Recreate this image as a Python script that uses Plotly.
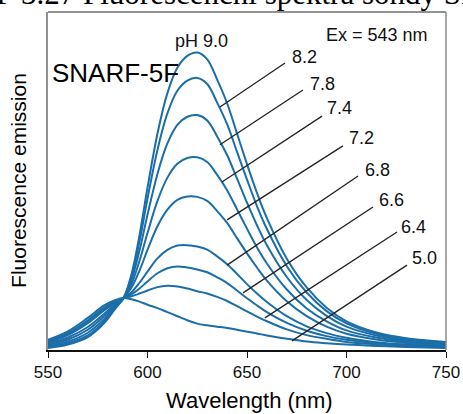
import plotly.graph_objects as go

# Wavelength grid (nm)
wavelength = [550, 560, 570, 578, 584, 588, 592, 596, 600, 605, 610, 615, 620, 625, 630,
              635, 640, 645, 650, 655, 660, 670, 680, 690, 700, 715, 730, 750]

ph_90 = [0.6, 1.6, 3.8, 7.8, 12.4, 15.4, 22.5, 34.0, 48.0, 64.0, 76.0, 83.5, 87.0, 88.0, 86.0,
         80.0, 73.0, 64.0, 55.0, 46.5, 39.0, 27.0, 18.5, 12.5, 8.5, 5.2, 3.5, 2.4]
ph_82 = [0.8, 2.0, 4.3, 8.3, 12.6, 15.4, 21.8, 32.2, 44.8, 59.2, 70.0, 76.7, 79.7, 80.5, 78.7,
         73.2, 66.8, 58.6, 50.4, 42.6, 35.8, 24.8, 17.0, 11.5, 7.9, 4.8, 3.3, 2.2]
ph_78 = [1.2, 2.5, 5.1, 9.0, 13.0, 15.4, 20.8, 29.5, 40.0, 52.1, 61.1, 66.6, 69.0, 69.5, 67.9,
         63.2, 57.7, 50.7, 43.6, 36.9, 31.0, 21.6, 14.8, 10.1, 6.9, 4.3, 2.9, 2.0]
ph_74 = [1.5, 3.1, 6.0, 9.9, 13.3, 15.4, 19.6, 26.4, 34.6, 44.1, 51.0, 55.1, 56.8, 57.0, 55.6,
         51.8, 47.3, 41.6, 35.9, 30.4, 25.6, 17.9, 12.3, 8.5, 5.8, 3.7, 2.5, 1.7]
ph_72 = [1.9, 3.7, 6.8, 10.6, 13.7, 15.4, 18.5, 23.5, 29.6, 36.6, 41.5, 44.4, 45.4, 45.3, 44.1,
         41.1, 37.6, 33.1, 28.6, 24.4, 20.5, 14.4, 10.0, 6.9, 4.8, 3.1, 2.1, 1.4]
ph_68 = [2.3, 4.4, 7.9, 11.6, 14.1, 15.4, 17.1, 19.9, 23.2, 27.1, 29.6, 30.9, 31.0, 30.6, 29.7,
         27.7, 25.4, 22.5, 19.5, 16.7, 14.2, 10.0, 7.0, 5.0, 3.6, 2.3, 1.6, 1.1]
ph_66 = [2.5, 4.7, 8.4, 12.0, 14.3, 15.4, 16.5, 18.2, 20.3, 22.7, 24.2, 24.7, 24.4, 23.8, 23.0,
         21.5, 19.8, 17.6, 15.3, 13.2, 11.2, 8.0, 5.7, 4.1, 3.0, 2.0, 1.4, 1.0]
ph_64 = [2.7, 5.0, 8.8, 12.5, 14.5, 15.4, 15.9, 16.7, 17.6, 18.6, 19.0, 18.8, 18.2, 17.4, 16.7,
         15.7, 14.5, 13.0, 11.4, 9.9, 8.5, 6.1, 4.4, 3.3, 2.4, 1.7, 1.2, 0.8]
ph_50 = [3.0, 5.5, 9.5, 13.1, 14.8, 15.4, 15.0, 14.3, 13.4, 12.4, 11.2, 10.0, 8.8, 7.8, 7.3,
         6.9, 6.5, 6.0, 5.4, 4.9, 4.3, 3.3, 2.5, 2.0, 1.6, 1.2, 0.9, 0.6]

series = [ph_90, ph_82, ph_78, ph_74, ph_72, ph_68, ph_66, ph_64, ph_50]

# pH labels with leader lines: (label, curve point, label point)
ph_labels = ["8.2", "7.8", "7.4", "7.2", "6.8", "6.6", "6.4", "5.0"]
leader_start_x = [636.4, 636.4, 637.4, 640.0, 640.0, 648.0, 659.0, 672.6]
leader_start_y = [71.9, 60.7, 49.7, 38.5, 25.1, 16.9, 9.5, 2.7]
leader_end_x = [669.1, 678.1, 687.7, 698.2, 705.8, 713.3, 725.4, 730.4]
leader_end_y = [84.9, 76.9, 69.2, 60.4, 51.5, 42.3, 34.9, 25.1]
label_x = [671.6, 680.7, 689.2, 700.3, 708.3, 715.3, 726.4, 731.9]
label_y = [86.7, 78.7, 71.6, 62.7, 53.3, 44.4, 36.4, 27.2]

x_ticks = [550, 600, 650, 700, 750]

BLUE = "#1b6ea8"
SANS = "Liberation Sans, Arial, Helvetica, sans-serif"

fig = go.Figure()
for s in series:
    fig.add_trace(go.Scatter(x=wavelength, y=s, mode="lines",
                             line=dict(color=BLUE, width=2, shape="spline", smoothing=1.0),
                             hoverinfo="skip", showlegend=False))

shapes = []
for x0, y0, x1, y1 in zip(leader_start_x, leader_start_y, leader_end_x, leader_end_y):
    shapes.append(dict(type="line", xref="x", yref="y", x0=x0, y0=y0, x1=x1, y1=y1,
                       line=dict(color="#222222", width=1.3)))
# frame: top and right
shapes.append(dict(type="line", xref="paper", yref="paper", x0=0, y0=1, x1=1, y1=1,
                   line=dict(color="#6e6e6e", width=1.5)))
shapes.append(dict(type="line", xref="paper", yref="paper", x0=1, y0=0, x1=1, y1=1,
                   line=dict(color="#8a8a8a", width=1.5)))

annotations = []
for t, x, y in zip(ph_labels, label_x, label_y):
    annotations.append(dict(text=t, x=x, y=y, xref="x", yref="y", xanchor="left",
                            yanchor="middle", showarrow=False,
                            font=dict(family=SANS, size=18, color="#111111")))
annotations += [
    dict(text="pH 9.0", x=627.1, y=91.4, xref="x", yref="y", xanchor="center",
         yanchor="middle", showarrow=False, font=dict(family=SANS, size=18, color="#111111")),
    dict(text="Ex = 543 nm", x=742.0, y=93.2, xref="x", yref="y", xanchor="right",
         yanchor="middle", showarrow=False, font=dict(family=SANS, size=18, color="#111111")),
    dict(text="SNARF-5F", x=551.0, y=82.1, xref="x", yref="y", xanchor="left",
         yanchor="middle", showarrow=False, font=dict(family=SANS, size=26, color="#000000")),
    dict(text="Wavelength (nm)", x=0.5075, y=-0.148, xref="paper", yref="paper",
         xanchor="center", yanchor="middle", showarrow=False,
         font=dict(family=SANS, size=22, color="#000000")),
    dict(text="Fluorescence emission", x=-0.073, y=0.503, xref="paper", yref="paper",
         xanchor="center", yanchor="middle", textangle=-90, showarrow=False,
         font=dict(family=SANS, size=21, color="#000000")),
    dict(text="F 3.27 Fluorescenční spektra sondy SNARF-5F", x=-0.132, y=1.0,
         xref="paper", yref="paper", xanchor="left", yanchor="bottom", showarrow=False,
         borderpad=0, font=dict(family="Liberation Serif, Times New Roman, serif", size=31,
                                color="#000000")),
]

fig.update_layout(
    width=463, height=414,
    margin=dict(l=48, r=17, t=12, b=64, autoexpand=False),
    paper_bgcolor="white", plot_bgcolor="white",
    shapes=shapes, annotations=annotations,
    xaxis=dict(range=[550, 750], tickvals=x_ticks, ticktext=[str(v) for v in x_ticks],
               automargin=False,
               showgrid=False, zeroline=False, showline=True, linecolor="#111111",
               linewidth=1.5, ticks="outside", ticklen=6, tickcolor="#111111",
               tickwidth=1.3, tickfont=dict(family=SANS, size=17, color="#111111")),
    yaxis=dict(range=[0, 100], showgrid=False, zeroline=False, showline=True,
               automargin=False,
               linecolor="#8f8f8f", linewidth=2, showticklabels=False, ticks=""),
)

fig.write_html("out.html")
